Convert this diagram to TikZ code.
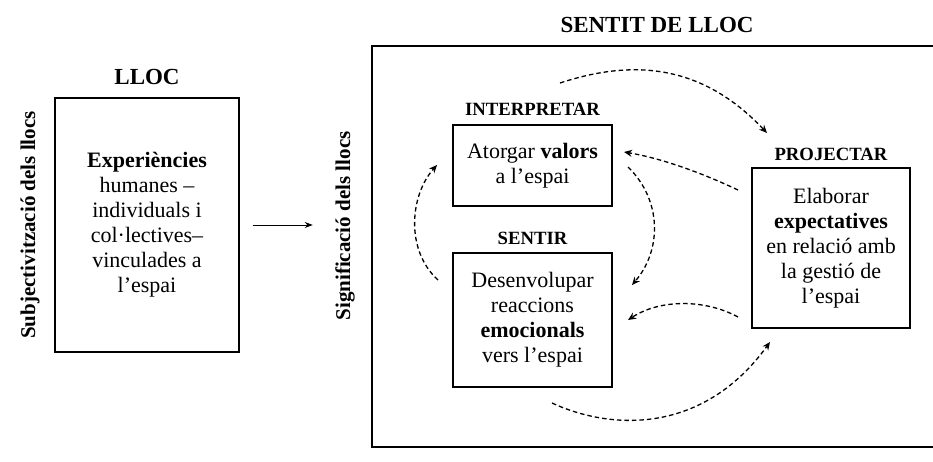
\documentclass[tikz,border=0pt]{standalone}
\usepackage{fontspec}
\setmainfont{Liberation Serif}
\usetikzlibrary{arrows.meta,positioning}
\tikzset{
  box/.style={draw, line width=1.2pt, align=center, inner sep=0pt, font=\fontsize{22}{25}\selectfont},
  title/.style={font=\fontsize{23}{26}\selectfont\bfseries},
  subtitle/.style={font=\fontsize{18.7}{22}\selectfont\bfseries},
  sidelabel/.style={rotate=90, font=\fontsize{21}{24}\selectfont\bfseries},
  flow/.style={-{Stealth[length=8pt,width=7pt]}, line width=1.3pt, dash pattern=on 4.5pt off 3pt},
}

\begin{document}
\begin{tikzpicture}[x=1pt,y=-1pt]
      \useasboundingbox (0,0) rectangle (933,461);
      % lloc
      \node[box, minimum width=184pt, minimum height=254pt] (lloc) at (147,225)
        {\textbf{Experiències}\\humanes –\\individuals i\\col·lectives–\\vinculades a\\l’espai};
      \node[title, above=9pt of lloc] (llocTitle) {LLOC};
      \node[sidelabel] (subj) at (30,225) {Subjectivització dels llocs};
      \node[sidelabel] (signif) at (345,226) {Significació dels llocs};
      \draw[-{Stealth[length=8pt,width=6pt]}, line width=0.9pt, shorten <=13pt, shorten >=19pt]
        (lloc.east) -- (lloc.east -| signif.north);
      % sentit de lloc
      \draw[line width=1.2pt] (933,46) -| (372,447) -- (933,447);
      \node[title] (sentitTitle) at (657,25) {SENTIT DE LLOC};
      \node[box, minimum width=159pt, minimum height=81pt] (interp) at (532.5,165.5)
        {Atorgar \textbf{valors}\\a l’espai};
      \node[subtitle, above=5pt of interp] (interpTitle) {INTERPRETAR};
      \node[box, minimum width=159pt, minimum height=134pt] (sentir) at (532.5,320)
        {Desenvolupar\\reaccions\\\textbf{emocionals}\\vers l’espai};
      \node[subtitle, above=4pt of sentir] (sentirTitle) {SENTIR};
      \node[box, minimum width=158pt, minimum height=160pt] (proj) at (831,248)
        {Elaborar\\\textbf{expectatives}\\en relació amb\\la gestió de\\l’espai};
      \node[subtitle, above=3pt of proj] (projTitle) {PROJECTAR};
      % cycle
      \coordinate (topS) at (560,83);   \coordinate (topE) at (767,133);
      \coordinate (p2iS) at (738,190);  \coordinate (p2iE) at (624,152);
      \coordinate (i2sS) at (628,167);  \coordinate (i2sE) at (632,285);
      \coordinate (p2sS) at (738,317);  \coordinate (p2sE) at (628,320);
      \coordinate (botS) at (552,403);  \coordinate (botE) at (770,342);
      \coordinate (s2iS) at (438,280);  \coordinate (s2iE) at (437,165);
      \draw[flow] (topS) .. controls (630,60) and (700,62) .. (topE);
      \draw[flow] (p2iS) .. controls (700,172) and (660,158) .. (p2iE);
      \draw[flow] (i2sS) .. controls (662,200) and (662,250) .. (i2sE);
      \draw[flow] (p2sS) .. controls (705,299) and (660,299) .. (p2sE);
      \draw[flow] (botS) .. controls (615,432) and (705,432) .. (botE);
      \draw[flow] (s2iS) .. controls (405,250) and (410,195) .. (s2iE);
    \end{tikzpicture}
\end{document}
